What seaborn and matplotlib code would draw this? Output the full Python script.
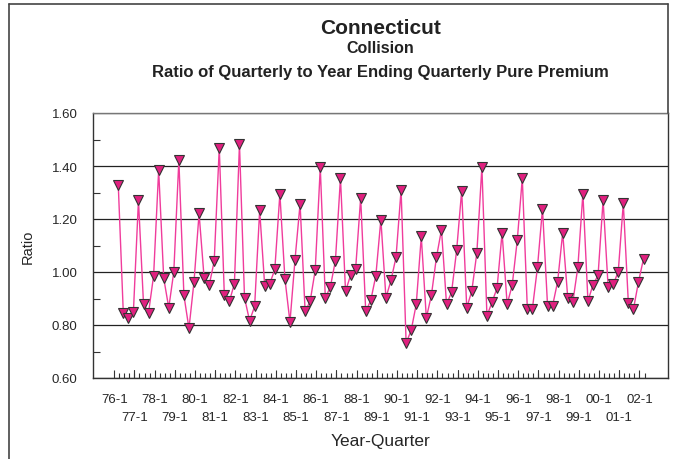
import numpy as np
import pandas as pd
import matplotlib
matplotlib.use("Agg")
import matplotlib.pyplot as plt
from matplotlib.lines import Line2D
from matplotlib.ticker import MultipleLocator, FixedLocator, FormatStrFormatter
import seaborn as sns

# ---- data: ratio of quarterly to year-ending quarterly pure premium, 76-1 .. 02-1 ----
years = list(range(1976, 2003))
quarters = [f"{y % 100:02d}-{q}" for y in years for q in range(1, 5)][:105]
ratio = [
    1.33, 0.845, 0.827, 0.849, 1.271, 0.880, 0.847, 0.986,
    1.385, 0.977, 0.865, 1.001, 1.422, 0.912, 0.787, 0.963,
    1.221, 0.978, 0.950, 1.041, 1.469, 0.915, 0.889, 0.956,
    1.483, 0.903, 0.816, 0.870, 1.233, 0.947, 0.956, 1.010,
    1.295, 0.975, 0.811, 1.047, 1.257, 0.851, 0.890, 1.007,
    1.395, 0.902, 0.944, 1.043, 1.355, 0.927, 0.988, 1.012,
    1.280, 0.851, 0.893, 0.986, 1.198, 0.903, 0.968, 1.056,
    1.310, 0.732, 0.780, 0.878, 1.134, 0.827, 0.912, 1.055,
    1.160, 0.878, 0.924, 1.082, 1.307, 0.865, 0.928, 1.072,
    1.396, 0.834, 0.886, 0.939, 1.148, 0.879, 0.950, 1.119,
    1.354, 0.861, 0.861, 1.017, 1.239, 0.873, 0.873, 0.964,
    1.148, 0.903, 0.886, 1.018, 1.296, 0.890, 0.952, 0.987,
    1.271, 0.942, 0.953, 1.001, 1.260, 0.883, 0.859, 0.962,
    1.050,
]
year_labels = [f"{y % 100:02d}-1" for y in years]

df = pd.DataFrame({"quarter": quarters, "ratio": ratio})
df["pos"] = np.arange(len(df))

sns.set_style("white")
plt.rcParams["font.family"] = ["Liberation Sans", "DejaVu Sans"]

fig = plt.figure(figsize=(6.73, 4.60), dpi=100)
ax = fig.add_axes([93 / 673, 1 - 379 / 460, 575 / 673, 265 / 460])

sns.lineplot(data=df, x="pos", y="ratio", ax=ax, color="#F03C9C", linewidth=1.0,
             marker="v", markersize=6.5, markerfacecolor="#E0207F",
             markeredgecolor="#333333", markeredgewidth=0.8)

# ---- y axis ----
ax.set_ylim(0.6, 1.6)
ax.yaxis.set_major_locator(MultipleLocator(0.2))
ax.yaxis.set_minor_locator(MultipleLocator(0.1))
ax.yaxis.set_major_formatter(FormatStrFormatter("%.2f"))
ax.tick_params(axis="y", which="major", direction="out", length=6, width=0.8,
               color="#333333", labelsize=9.5, pad=5)
ax.tick_params(axis="y", which="minor", direction="in", length=5, width=0.8,
               color="#333333", left=True)
ax.grid(axis="y", which="major", color="#222222", linewidth=0.9)
ax.set_axisbelow(True)

# ---- x axis: tick marks between quarters, tall at each Q1 ----
offset = -0.8
n = len(df)
ax.set_xlim(-5.0, 108.85)
major_pos = [k + offset for k in range(0, n, 4)]
minor_pos = [k + offset for k in range(0, n + 1)]
ax.xaxis.set_major_locator(FixedLocator(major_pos[0::2]))
ax.xaxis.set_minor_locator(FixedLocator(minor_pos))
ax.set_xticklabels(year_labels[0::2])
ax.tick_params(axis="x", which="major", direction="in", length=6, width=0.8,
               color="#333333", labelsize=9.5, pad=11, bottom=True)
ax.tick_params(axis="x", which="minor", direction="in", length=3.5, width=0.8,
               color="#333333", bottom=True)
# tall ticks for the odd years (their labels go on a second row)
for p in major_pos[1::2]:
    ax.axvline(p, ymin=0, ymax=6 / 190.8, color="#333333", linewidth=0.8)

sec = ax.secondary_xaxis("bottom")
sec.set_xticks(major_pos[1::2], labels=year_labels[1::2])
sec.tick_params(axis="x", length=0, labelsize=9.5, pad=24)
sec.spines["bottom"].set_visible(False)

for side in ["left", "bottom", "right"]:
    ax.spines[side].set_color("#333333")
    ax.spines[side].set_linewidth(1.0)
ax.spines["top"].set_color("#777777")
ax.spines["top"].set_linewidth(1.0)

ax.set_ylabel("Ratio", fontsize=10.5, labelpad=12)
ax.set_xlabel("Year-Quarter", fontsize=12.5, labelpad=20)

# ---- titles ----
cx = (93 + 668) / 2 / 673
fig.text(cx, 1 - 28 / 460, "Connecticut", ha="center", va="center",
         fontsize=15, fontweight="bold", color="#222222")
fig.text(cx, 1 - 49 / 460, "Collision", ha="center", va="center",
         fontsize=11.5, fontweight="bold", color="#222222")
fig.text(cx, 1 - 73 / 460, "Ratio of Quarterly to Year Ending Quarterly Pure Premium",
         ha="center", va="center", fontsize=12, fontweight="bold", color="#222222")

# ---- outer frame ----
W, H = 673, 460
fig.add_artist(Line2D([9 / W, 9 / W], [0, 1 - 5 / H], color="#444444", lw=1.2))
fig.add_artist(Line2D([9 / W, 668 / W], [1 - 5 / H, 1 - 5 / H], color="#444444", lw=1.2))
fig.add_artist(Line2D([668 / W, 668 / W], [1 - 5 / H, 1 - 114 / H], color="#444444", lw=1.2))

fig.savefig("out.png", dpi=100)
